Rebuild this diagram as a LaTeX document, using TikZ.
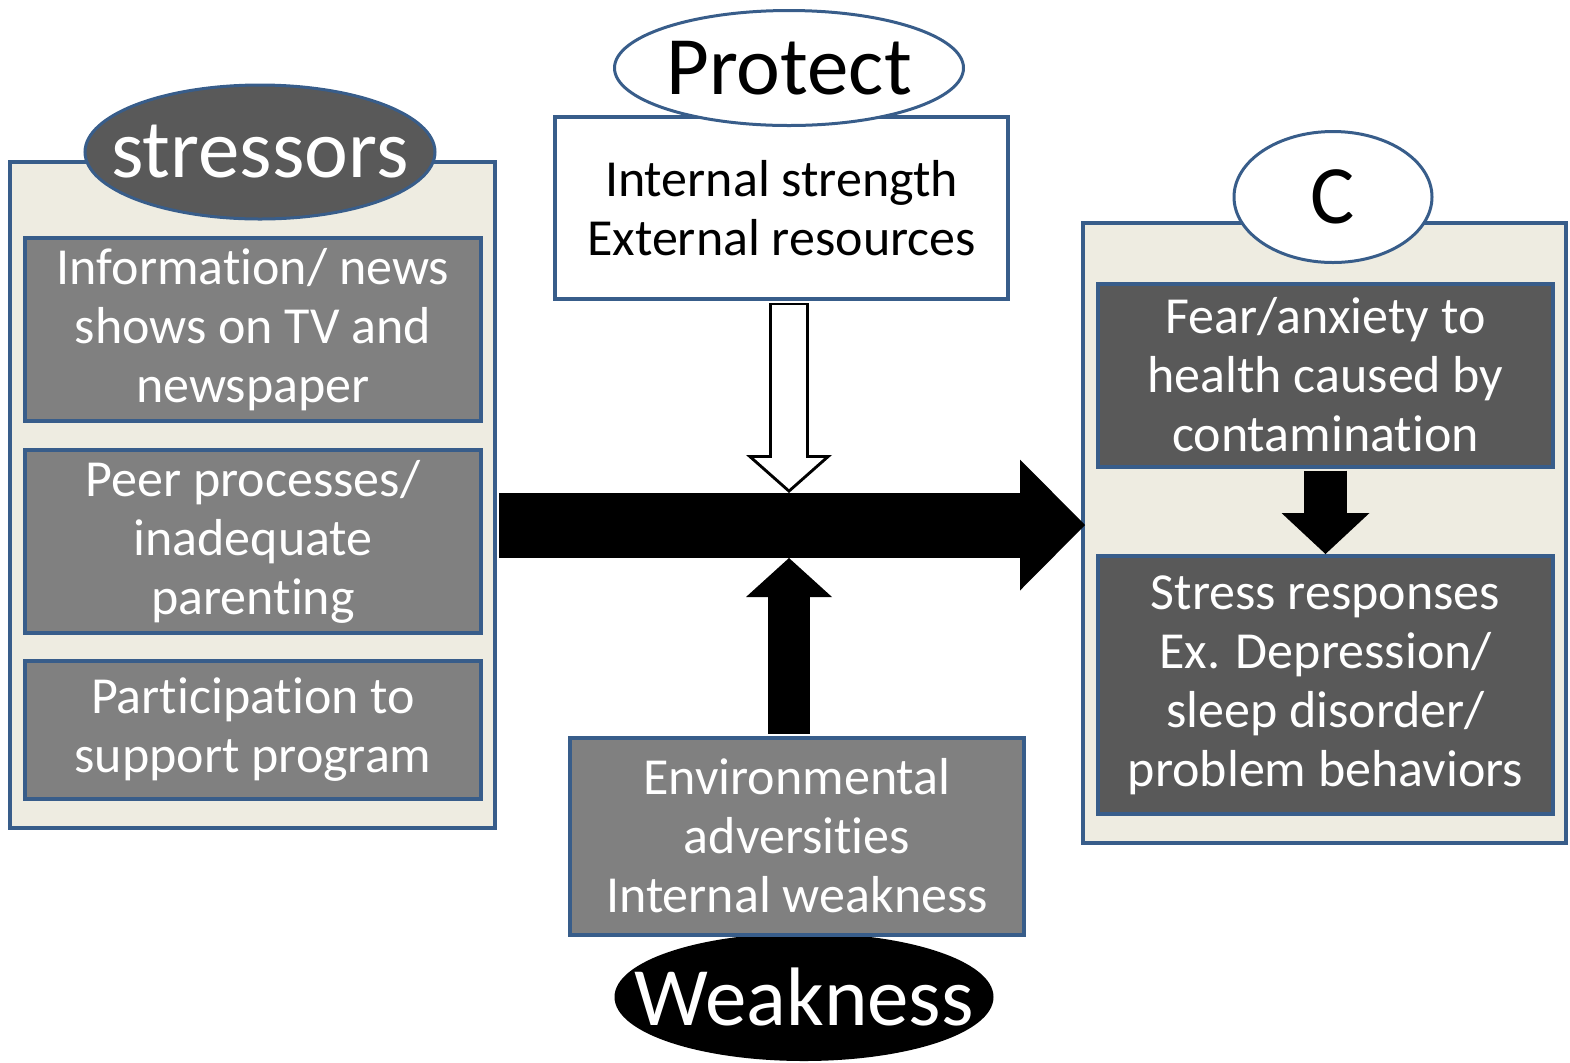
\documentclass[tikz,border=0pt]{standalone}
\usepackage{fontspec}
\setmainfont{Carlito}[Ligatures={NoCommon,NoContextual,NoRequired}]
\usetikzlibrary{shapes.geometric,arrows.meta}
\definecolor{edgeblue}{HTML}{385D8A}
\definecolor{panelbg}{HTML}{EEECE1}
\definecolor{midgrey}{HTML}{808080}
\definecolor{darkgrey}{HTML}{595959}
\begin{document}
\begin{tikzpicture}[
		x=0.5pt,y=-0.5pt,
		panel/.style={rectangle,draw=edgeblue,fill=panelbg,line width=2pt,inner sep=0pt},
		textbox/.style={rectangle,draw=edgeblue,line width=2pt,align=center,inner sep=0pt,
			font=\fontsize{26}{29.5}\selectfont},
		greybox/.style={textbox,fill=midgrey,text=white},
		darkbox/.style={textbox,fill=darkgrey,text=white},
		tag/.style={ellipse,draw=edgeblue,line width=1.5pt,inner sep=0pt},
		tagtext/.style={font=\fontsize{41.5}{50}\selectfont,inner sep=0pt},
		fatarrow/.style={line width=#1,shorten <=1pt}
  	]
	\useasboundingbox (0,0) rectangle (1570,1062);
	\node[panel,minimum width=242.5pt,minimum height=333pt] (SP) at (252.5,495) {};
	\node[panel,minimum width=241.5pt,minimum height=310pt] (CP) at (1324.5,533) {};
	\node[greybox,minimum width=228pt,minimum height=91.5pt] (S1) at (253,329.5) {
		Information/ news\\shows on TV and\\newspaper
	};
	\node[greybox,minimum width=228pt,minimum height=91.5pt] (S2) at (253,541.5) {
		Peer processes/\\inadequate\\parenting
	};
	\node[greybox,minimum width=228pt,minimum height=69pt] (S3) at (253,729.5) {
		Participation to\\support program
	};
	\node[tag,fill=darkgrey,minimum width=175pt,minimum height=67pt,
		label={[tagtext,text=white]center:stressors}] (S) at (260,152) {};
	\node[textbox,fill=white,minimum width=226.5pt,minimum height=91pt] (PB) at (781.5,208) {
		Internal strength\\External resources
	};
	\node[tag,fill=white,minimum width=174.5pt,minimum height=57.5pt,
		label={[tagtext]center:Protect}] (P) at (789,68) {};
	\node[tag,draw=black,fill=black,minimum width=188pt,minimum height=62.5pt,
		label={[tagtext,text=white]center:Weakness}] (W) at (804,997) {};
	\node[greybox,minimum width=227pt,minimum height=98.5pt] (WB) at (797,836) {
		Environmental\\adversities\\Internal weakness
	};
	\node[darkbox,minimum width=227.5pt,minimum height=91.5pt] (C1) at (1325.5,375) {
		Fear/anxiety to\\health caused by\\contamination
	};
	\node[darkbox,minimum width=227.5pt,minimum height=129pt] (C2) at (1325.5,685) {
		Stress responses\\Ex. Depression/\\sleep disorder/\\problem behaviors
	};
	\node[tag,fill=white,minimum width=99pt,minimum height=65.5pt,
		label={[tagtext]center:C}] (C) at (1333,197) {};
	\coordinate (top) at (789,493);
	\coordinate (bot) at (789,558);
	\coordinate (mid) at (789,525);
	\draw[fatarrow=32.5pt,shorten >=-2pt,-{Triangle[length=32.5pt,width=65.5pt,line width=0pt]}] (SP.east |- mid) -- (CP.west |- mid);
	\draw[fatarrow=20pt,-{Triangle[length=19pt,width=43pt,line width=0pt]}] (top |- PB.south) -- (top);
	\draw[fatarrow=17pt,white,shorten >=2pt,shorten <=2pt,-{Triangle[length=15.5pt,width=35pt,line width=0pt]}] (top |- PB.south) -- (top);
	\draw[fatarrow=21pt,-{Triangle[length=19.5pt,width=43pt,line width=0pt]}] (bot |- WB.north) -- (bot);
	\draw[fatarrow=21.5pt,-{Triangle[length=20.5pt,width=44pt,line width=0pt]}] (C1.south) -- (C2.north);
\end{tikzpicture}
\end{document}
